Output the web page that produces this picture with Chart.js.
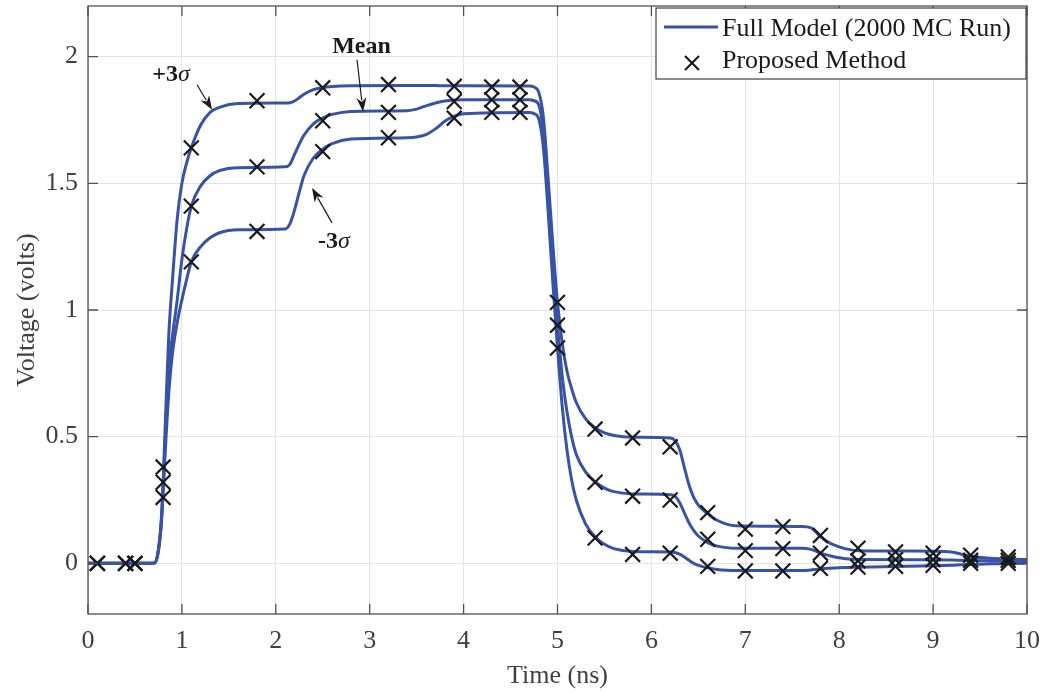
<!DOCTYPE html>
<html>
<head>
<meta charset="utf-8">
<script src="https://cdn.jsdelivr.net/npm/chart.js@4"></script>
<style>
  body { margin: 0; background: #fff; }
  #wrap { width: 1047px; height: 692px; }
</style>
</head>
<body>
<div id="wrap"><canvas id="voltageChart"></canvas></div>
<script>
// time grid for the full model curves (ns)
const curveTime = [0, 0.7, 0.74, 0.78, 0.8, 0.83, 0.86, 0.9, 0.95, 1.0, 1.05, 1.1, 1.2, 1.3, 1.4, 1.6,
  2.1, 2.15, 2.2, 2.25, 2.3, 2.4, 2.5, 2.6, 2.8, 3.4, 3.5, 3.6, 3.7, 3.8, 3.9, 4.0, 4.7, 4.75, 4.8, 4.85,
  4.9, 4.95, 5.0, 5.05, 5.1, 5.15, 5.2, 5.3, 5.4, 5.5, 5.6, 5.8, 6.2, 6.25, 6.3, 6.35, 6.4, 6.45, 6.5,
  6.6, 6.7, 6.8, 6.9, 7.6, 7.7, 7.75, 7.8, 7.9, 8.0, 8.1, 8.2, 9.0, 9.2, 9.3, 9.4, 9.6, 10];

// full model, +3 sigma / mean / -3 sigma (volts)
const fullUpper = [0, 0, 0.03, 0.17, 0.32, 0.62, 0.9, 1.12, 1.36, 1.5, 1.58, 1.64, 1.73, 1.78, 1.8, 1.815,
  1.817, 1.818, 1.825, 1.838, 1.852, 1.87, 1.878, 1.882, 1.885, 1.886, 1.886, 1.886, 1.886, 1.885, 1.885, 1.885, 1.884, 1.88, 1.86, 1.76,
  1.52, 1.26, 1.03, 0.87, 0.76, 0.69, 0.635, 0.57, 0.535, 0.515, 0.505, 0.498, 0.495, 0.485, 0.45, 0.38, 0.31, 0.26, 0.23,
  0.195, 0.17, 0.155, 0.148, 0.145, 0.14, 0.125, 0.105, 0.08, 0.065, 0.055, 0.05, 0.048, 0.045, 0.036, 0.028, 0.02, 0.015];

const fullMean = [0, 0, 0.03, 0.16, 0.3, 0.56, 0.77, 0.9, 1.04, 1.2, 1.32, 1.41, 1.49, 1.53, 1.55, 1.562,
  1.565, 1.575, 1.615, 1.655, 1.69, 1.735, 1.758, 1.772, 1.784, 1.787, 1.793, 1.806, 1.817, 1.825, 1.829, 1.83, 1.83, 1.826, 1.81, 1.7,
  1.45, 1.18, 0.94, 0.74, 0.6, 0.5, 0.43, 0.36, 0.322, 0.297, 0.283, 0.274, 0.271, 0.265, 0.24, 0.2, 0.16, 0.13, 0.108,
  0.082, 0.068, 0.062, 0.06, 0.06, 0.055, 0.048, 0.04, 0.03, 0.022, 0.017, 0.015, 0.014, 0.013, 0.012, 0.011, 0.01, 0.008];

const fullLower = [0, 0, 0.03, 0.15, 0.28, 0.49, 0.67, 0.83, 0.95, 1.04, 1.12, 1.19, 1.25, 1.285, 1.305, 1.317,
  1.32, 1.34, 1.395, 1.465, 1.53, 1.6, 1.635, 1.657, 1.675, 1.68, 1.683, 1.692, 1.715, 1.745, 1.765, 1.775, 1.78, 1.775, 1.755, 1.64,
  1.39, 1.11, 0.85, 0.62, 0.45, 0.33, 0.25, 0.155, 0.105, 0.075, 0.058, 0.047, 0.045, 0.043, 0.036, 0.025, 0.012, 0.0, -0.008,
  -0.018, -0.024, -0.027, -0.028, -0.028, -0.026, -0.024, -0.022, -0.019, -0.017, -0.016, -0.015, -0.01, -0.008, -0.006, -0.005, -0.002, 0.0];

// proposed method samples
const pmTime = [0.1, 0.4, 0.5, 0.8, 1.1, 1.8, 2.5, 3.2, 3.9, 4.3, 4.6, 5.0, 5.4, 5.8, 6.2, 6.6, 7.0, 7.4, 7.8, 8.2, 8.6, 9.0, 9.4, 9.8];
const pmUpper = [0, 0, 0, 0.38, 1.64, 1.826, 1.877, 1.89, 1.883, 1.88, 1.88, 1.03, 0.53, 0.495, 0.46, 0.2, 0.135, 0.145, 0.11, 0.06, 0.045, 0.04, 0.032, 0.025];
const pmMean = [0, 0, 0, 0.32, 1.41, 1.565, 1.747, 1.78, 1.823, 1.83, 1.83, 0.94, 0.32, 0.265, 0.25, 0.095, 0.05, 0.058, 0.04, 0.01, 0.015, 0.015, 0.012, 0.012];
const pmLower = [0, 0, 0, 0.26, 1.19, 1.31, 1.625, 1.68, 1.757, 1.78, 1.78, 0.85, 0.1, 0.035, 0.04, -0.012, -0.03, -0.03, -0.02, -0.015, -0.012, -0.008, 0, 0];

const xTicks = [0, 1, 2, 3, 4, 5, 6, 7, 8, 9, 10];
const yTicks = [0, 0.5, 1, 1.5, 2];
const legendLabels = ['Full Model (2000 MC Run)', 'Proposed Method'];

const lineBlue = '#3853a6';
const axisGray = '#404040';
const serif = 'Liberation Serif';

const toPts = (xs, ys) => xs.map((x, i) => ({ x: x, y: ys[i] }));

const curveSet = (vals) => ({
  data: toPts(curveTime, vals),
  borderColor: lineBlue,
  borderWidth: 3,
  pointRadius: 0,
  cubicInterpolationMode: 'monotone',
  fill: false,
  order: 1
});

const crosses = [].concat(toPts(pmTime, pmUpper), toPts(pmTime, pmMean), toPts(pmTime, pmLower));

// box with inward ticks, like matlab axes
const axesFrame = {
  id: 'axesFrame',
  afterDatasetsDraw(chart) {
    const { ctx, chartArea: a, scales: { x, y } } = chart;
    ctx.save();
    ctx.strokeStyle = '#505050';
    ctx.lineWidth = 1.3;
    ctx.strokeRect(a.left, a.top, a.right - a.left, a.bottom - a.top);
    ctx.beginPath();
    xTicks.forEach(v => {
      const px = x.getPixelForValue(v);
      ctx.moveTo(px, a.bottom); ctx.lineTo(px, a.bottom - 10);
      ctx.moveTo(px, a.top); ctx.lineTo(px, a.top + 10);
    });
    yTicks.forEach(v => {
      const py = y.getPixelForValue(v);
      ctx.moveTo(a.left, py); ctx.lineTo(a.left + 10, py);
      ctx.moveTo(a.right, py); ctx.lineTo(a.right - 10, py);
    });
    ctx.stroke();
    ctx.restore();
  }
};

function arrow(ctx, x0, y0, x1, y1) {
  const ang = Math.atan2(y1 - y0, x1 - x0);
  const hl = 14, hw = 5;
  ctx.beginPath();
  ctx.moveTo(x0, y0);
  ctx.lineTo(x1 - Math.cos(ang) * hl * 0.8, y1 - Math.sin(ang) * hl * 0.8);
  ctx.stroke();
  ctx.beginPath();
  ctx.moveTo(x1, y1);
  ctx.lineTo(x1 - Math.cos(ang) * hl - Math.sin(ang) * hw, y1 - Math.sin(ang) * hl + Math.cos(ang) * hw);
  ctx.lineTo(x1 - Math.cos(ang) * hl * 0.7, y1 - Math.sin(ang) * hl * 0.7);
  ctx.lineTo(x1 - Math.cos(ang) * hl + Math.sin(ang) * hw, y1 - Math.sin(ang) * hl - Math.cos(ang) * hw);
  ctx.closePath();
  ctx.fill();
}

// curve labels with arrows
const curveNotes = {
  id: 'curveNotes',
  afterDraw(chart) {
    const { ctx, scales: { x, y } } = chart;
    const notes = [
      { bold: '+3', sym: 'σ', tx: 0.884, ty: 1.905, a: [1.161, 1.889, 1.321, 1.79] },
      { bold: 'Mean', sym: '', tx: 2.913, ty: 2.016, a: [2.865, 1.988, 2.929, 1.783] },
      { bold: '-3', sym: 'σ', tx: 2.62, ty: 1.245, a: [2.599, 1.344, 2.386, 1.482] }
    ];
    ctx.save();
    ctx.fillStyle = '#1a1a1a';
    ctx.strokeStyle = '#1a1a1a';
    ctx.lineWidth = 1.2;
    notes.forEach(n => {
      ctx.font = 'bold 24px "' + serif + '"';
      const wb = ctx.measureText(n.bold).width;
      ctx.font = 'italic 24px "' + serif + '"';
      const ws = ctx.measureText(n.sym).width;
      let px = x.getPixelForValue(n.tx) - (wb + ws) / 2;
      const py = y.getPixelForValue(n.ty);
      ctx.textBaseline = 'alphabetic';
      ctx.textAlign = 'left';
      ctx.font = 'bold 24px "' + serif + '"';
      ctx.fillText(n.bold, px, py);
      ctx.font = 'italic 24px "' + serif + '"';
      ctx.fillText(n.sym, px + wb, py);
      arrow(ctx, x.getPixelForValue(n.a[0]), y.getPixelForValue(n.a[1]),
        x.getPixelForValue(n.a[2]), y.getPixelForValue(n.a[3]));
    });
    ctx.restore();
  }
};

// legend box in the top right of the axes
const boxLegend = {
  id: 'boxLegend',
  afterDraw(chart) {
    const { ctx, chartArea: a } = chart;
    const w = 370, h = 71;
    const left = a.right - w - 1, top = a.top + 2;
    ctx.save();
    ctx.fillStyle = '#fff';
    ctx.fillRect(left, top, w, h);
    ctx.strokeStyle = '#404040';
    ctx.lineWidth = 1.2;
    ctx.strokeRect(left, top, w, h);
    // line sample
    ctx.strokeStyle = lineBlue;
    ctx.lineWidth = 3;
    ctx.beginPath();
    ctx.moveTo(left + 8, top + 19);
    ctx.lineTo(left + 62, top + 19);
    ctx.stroke();
    // cross sample
    const cx = left + 36, cy = top + 55;
    ctx.strokeStyle = '#1a1a1a';
    ctx.lineWidth = 2.2;
    ctx.beginPath();
    ctx.moveTo(cx - 7, cy - 7); ctx.lineTo(cx + 7, cy + 7);
    ctx.moveTo(cx - 7, cy + 7); ctx.lineTo(cx + 7, cy - 7);
    ctx.stroke();
    ctx.fillStyle = '#1a1a1a';
    ctx.font = '26px "' + serif + '"';
    ctx.textBaseline = 'middle';
    ctx.textAlign = 'left';
    ctx.fillText(legendLabels[0], left + 66, top + 21);
    ctx.fillText(legendLabels[1], left + 66, top + 53);
    ctx.restore();
  }
};

const tickFont = { family: serif, size: 26 };

new Chart(document.getElementById('voltageChart'), {
  type: 'line',
  data: {
    datasets: [
      {
        data: crosses,
        showLine: false,
        pointStyle: 'crossRot',
        pointRadius: 10.5,
        pointHoverRadius: 10.5,
        borderColor: '#1a1a1a',
        borderWidth: 2.2,
        order: 0
      },
      curveSet(fullUpper),
      curveSet(fullMean),
      curveSet(fullLower)
    ]
  },
  options: {
    responsive: true,
    maintainAspectRatio: false,
    animation: false,
    layout: { autoPadding: false, padding: { top: 6, right: 20, left: 0, bottom: 0 } },
    plugins: {
      legend: { display: false },
      tooltip: { enabled: false }
    },
    scales: {
      x: {
        type: 'linear',
        min: 0,
        max: 10,
        afterBuildTicks: s => { s.ticks = xTicks.map(v => ({ value: v })); },
        afterFit: s => { s.height = 78; s.paddingLeft = 0; s.paddingRight = 0; },
        grid: { color: '#e3e3e3', drawTicks: false },
        border: { display: false },
        ticks: { color: axisGray, font: tickFont, padding: 12, maxRotation: 0, autoSkip: false, callback: v => String(v) },
        title: { display: true, text: 'Time (ns)', color: axisGray, font: tickFont, padding: { top: 0, bottom: 0 } }
      },
      y: {
        type: 'linear',
        min: -0.2,
        max: 2.2,
        afterBuildTicks: s => { s.ticks = yTicks.map(v => ({ value: v })); },
        afterFit: s => { s.width = 88; s.paddingTop = 0; s.paddingBottom = 0; },
        grid: { color: '#e3e3e3', drawTicks: false },
        border: { display: false },
        ticks: { color: axisGray, font: tickFont, padding: 10, callback: v => String(v) },
        title: { display: true, text: 'Voltage (volts)', color: axisGray, font: tickFont, padding: { top: 12, bottom: 0 } }
      }
    }
  },
  plugins: [axesFrame, curveNotes, boxLegend]
});
</script>
</body>
</html>
